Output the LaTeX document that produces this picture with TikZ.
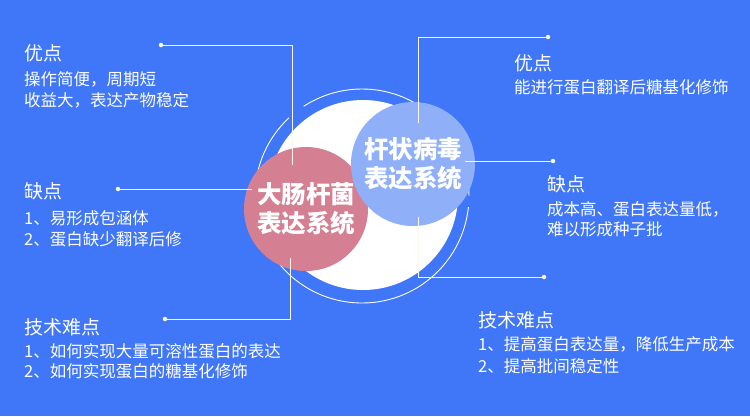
\documentclass[tikz,border=0pt]{standalone}
\usepackage{fontspec}
\setmainfont{Noto Sans CJK SC}
\usetikzlibrary{positioning}
\definecolor{bgblue}{RGB}{64,118,248}
\definecolor{ecolipink}{RGB}{212,127,146}
\definecolor{viruslight}{RGB}{143,176,248}
\definecolor{leadline}{RGB}{250,246,234}

\begin{document}
\begin{tikzpicture}[
    x=1pt, y=-1pt,
    ring/.style={draw=white, line width=0.9pt},
    bubble/.style={circle, minimum size=124pt, inner sep=0pt, align=center, text=white, font=\fontsize{24.5}{29}\selectfont\bfseries},
    lead/.style={draw=leadline, line width=0.9pt},
    dot/.style={circle, fill=leadline, inner sep=0pt, minimum size=4.5pt},
    head/.style={anchor=base west, inner sep=0pt, text=white, font=\fontsize{19}{22}\selectfont},
    body/.style={anchor=base west, inner sep=0pt, text=white, font=\fontsize{16.5}{21}\selectfont}
]

% background
\fill[bgblue] (0,0) rectangle (750,416);
\useasboundingbox (0,0) rectangle (750,416);

% ring and white disc
\draw[ring] (362,196) ++(0:107) arc[start angle=0, end angle=-123, radius=107];
\draw[ring] (362,196) ++(-133:107) arc[start angle=-133, end angle=-354, radius=107];
\fill[white] (363,195) circle[radius=95];

% the two systems
\node[bubble, fill=ecolipink] (ecoli) at (306,209) {大肠杆菌\\表达系统};
\node[bubble, fill=viruslight] (virus) at (413,164) {杆状病毒\\表达系统};

% leader lines
\node[dot] (dtl) at (161,45) {};
\coordinate (ctl) at (292,45);
\coordinate (etl) at (292,165);
\draw[lead] (dtl) -- (ctl) -- (etl);

\node[dot] (dml) at (118,189) {};
\coordinate (eml) at (252,189);
\draw[lead] (dml) -- (eml);

\node[dot] (dbl) at (165,319) {};
\coordinate (cbl) at (290.5,319);
\coordinate (ebl) at (290.5,258);
\draw[lead] (dbl) -- (cbl) -- (ebl);

\node[dot] (dtr) at (548,37) {};
\coordinate (ctr) at (418,37);
\coordinate (etr) at (418,123);
\draw[lead] (dtr) -- (ctr) -- (etr);

\node[dot] (dmr) at (553,161) {};
\coordinate (emr) at (465,161);
\draw[lead] (dmr) -- (emr);

\node[dot] (dbr) at (544,277) {};
\coordinate (cbr) at (418,277);
\coordinate (ebr) at (418,217);
\draw[lead] (dbr) -- (cbr) -- (ebr);

% E. coli texts
\node[head] (ecoliPro) at (24,60) {优点};
\node[body] (ecoliPro1) at (24,85) {操作简便，周期短};
\node[body] (ecoliPro2) at (24,106) {收益大，表达产物稳定};

\node[head] (ecoliCon) at (24,198) {缺点};
\node[body] (ecoliCon1) at (24,224) {1、易形成包涵体};
\node[body] (ecoliCon2) at (24,245) {2、蛋白缺少翻译后修};

\node[head] (ecoliTech) at (24,334) {技术难点};
\node[body] (ecoliTech1) at (24,357) {1、如何实现大量可溶性蛋白的表达};
\node[body] (ecoliTech2) at (24,377) {2、如何实现蛋白的糖基化修饰};

% baculovirus texts
\node[head] (virusPro) at (514,70) {优点};
\node[body] (virusPro1) at (514,93) {能进行蛋白翻译后糖基化修饰};

\node[head] (virusCon) at (547,191) {缺点};
\node[body] (virusCon1) at (547,215) {成本高、蛋白表达量低，};
\node[body] (virusCon2) at (547,235) {难以形成种子批};

\node[head] (virusTech) at (478,327) {技术难点};
\node[body] (virusTech1) at (478,350) {1、提高蛋白表达量，降低生产成本};
\node[body] (virusTech2) at (478,372) {2、提高批间稳定性};

\end{tikzpicture}
\end{document}
